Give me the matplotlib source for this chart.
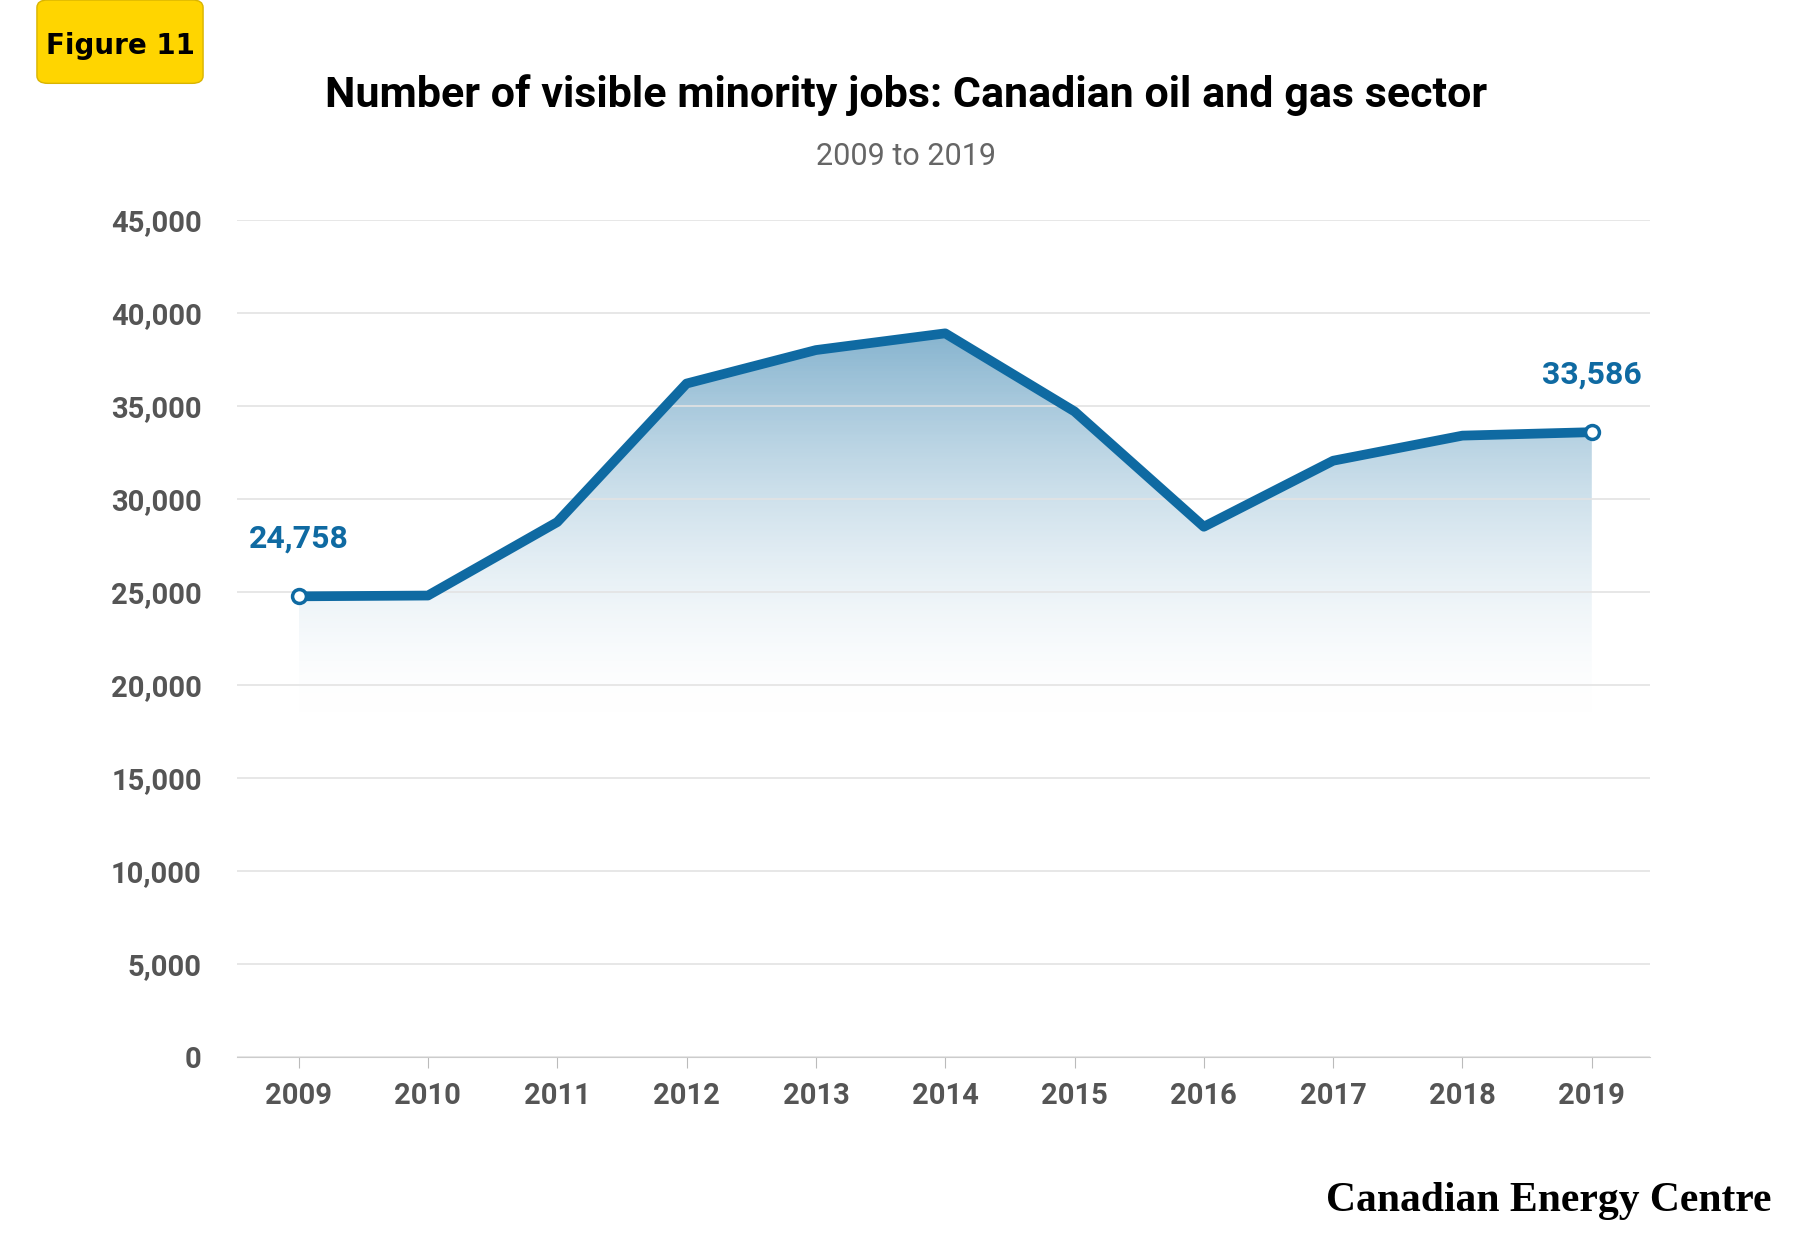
import matplotlib.pyplot as plt
import numpy as np
from matplotlib.patches import Polygon, FancyBboxPatch
from matplotlib.colors import LinearSegmentedColormap

years = [2009, 2010, 2011, 2012, 2013, 2014, 2015, 2016, 2017, 2018, 2019]
jobs = [24758, 24800, 28750, 36200, 38000, 38900, 34700, 28500, 32050, 33400, 33586]
yticks = list(range(0, 45001, 5000))

narrow = ['Liberation Sans Narrow', 'Roboto', 'DejaVu Sans']
blue = '#0f6aa2'

fig = plt.figure(figsize=(18, 12.5), dpi=100)
W, H = 1560, 1080
ax = fig.add_axes([205 / W, 1 - 913 / H, (1430 - 205) / W, (913 - 190) / H])
ax.set_xlim(2008.52, 2019.45)
ax.set_ylim(0, 45000)

# gradient fill under the line
grad = np.linspace(0, 1, 256).reshape(-1, 1) ** 0.8
cmap = LinearSegmentedColormap.from_list('g', [(1, 1, 1, 0), (0.42, 0.64, 0.77, 0.85)])
im = ax.imshow(grad, extent=[years[0], years[-1], 18500, 39500], origin='lower',
               aspect='auto', cmap=cmap, zorder=1)
poly = Polygon(list(zip(years, jobs)) + [(years[-1], 18500), (years[0], 18500)],
               closed=True, facecolor='none', edgecolor='none')
ax.add_patch(poly)
im.set_clip_path(poly)

ax.plot(years, jobs, color=blue, lw=7, solid_joinstyle='round', zorder=3)
for i in (0, -1):
    ax.plot(years[i], jobs[i], 'o', ms=10, mfc='white', mec=blue, mew=2.5, zorder=4)
    ax.text(years[i], jobs[i] + 2300, f'{jobs[i]:,}', color=blue, fontsize=23,
            fontweight='bold', ha='center', va='bottom', family=narrow)

ax.set_yticks(yticks)
ax.set_yticklabels([f'{v:,}' for v in yticks], fontsize=21, color='#555555',
                   family=narrow, fontweight='bold')
ax.set_xticks(years)
ax.set_xticklabels([str(y) for y in years], fontsize=21, color='#555555',
                   family=narrow, fontweight='bold')
ax.grid(axis='y', color='#e3e3e3', lw=1.2, zorder=0)
ax.tick_params(axis='y', length=0, pad=25)
ax.tick_params(axis='x', length=8, color='#bbbbbb', pad=10)
for s in ['top', 'right', 'left']:
    ax.spines[s].set_visible(False)
ax.spines['bottom'].set_color('#cccccc')

fig.text(785 / W, 1 - 82 / H, 'Number of visible minority jobs: Canadian oil and gas sector',
         ha='center', va='center', fontsize=31, fontweight='bold', family=narrow)
fig.text(785 / W, 1 - 135 / H, '2009 to 2019', ha='center', va='center',
         fontsize=22, color='#666666', family=narrow)
fig.patches.append(FancyBboxPatch((32 / W, 1 - 72 / H), 144 / W, 72 / H,
                                  boxstyle='round,pad=0,rounding_size=0.006',
                                  transform=fig.transFigure, facecolor='#ffd500',
                                  edgecolor='#d9b400', lw=1))
fig.text(104 / W, 1 - 40 / H, 'Figure 11', ha='center', va='center',
         fontsize=20, fontweight='bold')
fig.text(1535 / W, 1 - 1038 / H, 'Canadian Energy Centre', ha='right', va='center',
         fontsize=30, fontweight='bold', family=['Liberation Serif', 'DejaVu Serif'])

fig.savefig('out.png', dpi=100)
